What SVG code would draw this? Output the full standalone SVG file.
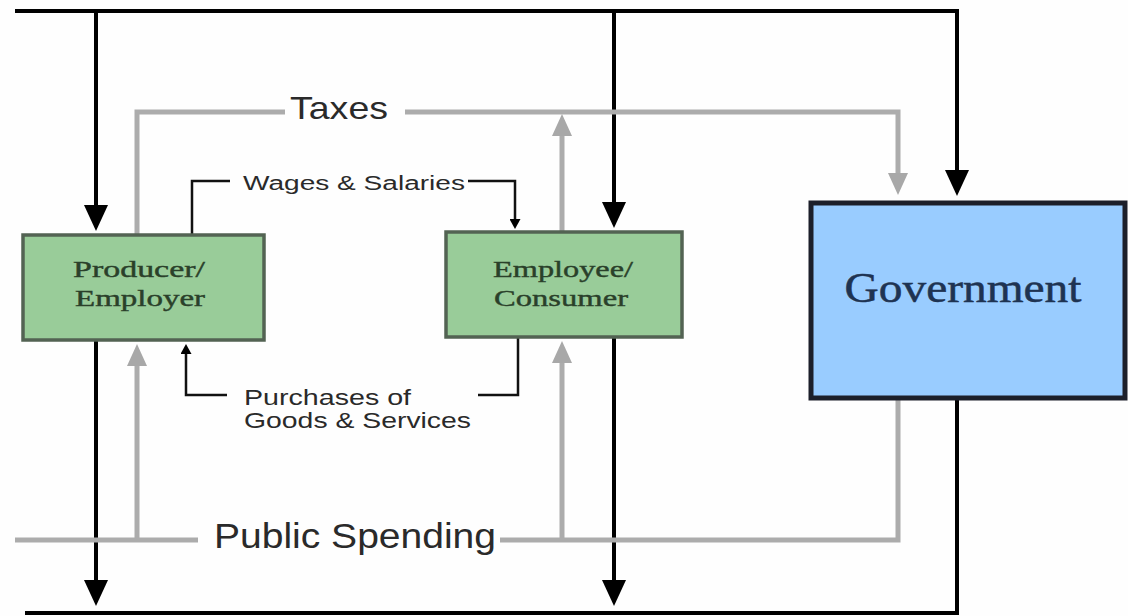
<svg xmlns="http://www.w3.org/2000/svg" width="1128" height="616" viewBox="0 0 1128 616">
  <style>
    .blk { fill: none; stroke: #000; stroke-width: 4; }
    .thin { fill: none; stroke: #111; stroke-width: 2.5; }
    .gry { fill: none; stroke: #acacac; stroke-width: 5; }
    .box { fill: #99cc99; stroke: #536353; stroke-width: 3.5; }
    .gov { fill: #99ccff; stroke: #1c1f2a; stroke-width: 5; }
    .boxtxt { font-family: "Liberation Serif", "DejaVu Serif", serif; font-size: 23px; fill: #2a402a; stroke: #2a402a; stroke-width: 0.4; text-anchor: middle; }
    .lbl { font-family: "Liberation Sans", Arial, sans-serif; fill: #2a2a2a; }
  </style>
  <defs>
    <marker id="ahB" viewBox="0 -12 26 24" refX="1" refY="0" markerWidth="26" markerHeight="24" markerUnits="userSpaceOnUse" orient="auto">
      <path d="M0,-12 L26,0 L0,12 z" fill="#000"/>
    </marker>
    <marker id="ahG" viewBox="0 -10 22 20" refX="1" refY="0" markerWidth="22" markerHeight="20" markerUnits="userSpaceOnUse" orient="auto">
      <path d="M0,-10 L22,0 L0,10 z" fill="#a8a8a8"/>
    </marker>
    <marker id="ahS" viewBox="0 -5.5 10 11" refX="1" refY="0" markerWidth="10" markerHeight="11" markerUnits="userSpaceOnUse" orient="auto">
      <path d="M0,-5.5 L10,0 L0,5.5 z" fill="#000"/>
    </marker>
  </defs>

  <rect width="1128" height="616" fill="#fefefe"/>

  <g id="connectors">
    <!-- money flow (black) -->
    <path class="blk" d="M15,11 H957 V171" marker-end="url(#ahB)"/>
    <path class="blk" d="M96,11 V206" marker-end="url(#ahB)"/>
    <path class="blk" d="M614,11 V203" marker-end="url(#ahB)"/>
    <path class="blk" d="M96,340 V581" marker-end="url(#ahB)"/>
    <path class="blk" d="M614,337 V581" marker-end="url(#ahB)"/>
    <path class="blk" d="M957,398 V613 H25"/>

    <!-- taxes (gray) -->
    <path class="gry" d="M137,235 V112 H285"/>
    <path class="gry" d="M405,112 H898 V174" marker-end="url(#ahG)"/>
    <path class="gry" d="M562,232 V135" marker-end="url(#ahG)"/>

    <!-- public spending (gray) -->
    <path class="gry" d="M15,540 H198"/>
    <path class="gry" d="M500,540 H898 V398"/>
    <path class="gry" d="M137,540 V365" marker-end="url(#ahG)"/>
    <path class="gry" d="M562,540 V362" marker-end="url(#ahG)"/>

    <!-- wages and purchases (thin black) -->
    <path class="thin" d="M192,235 V181 H230"/>
    <path class="thin" d="M468,181 H515 V220" marker-end="url(#ahS)"/>
    <path class="thin" d="M518,337 V395 H478"/>
    <path class="thin" d="M227,395 H186 V353" marker-end="url(#ahS)"/>

    <text class="lbl" x="290" y="119" font-size="32" textLength="98" lengthAdjust="spacingAndGlyphs">Taxes</text>
    <text class="lbl" x="243" y="190" font-size="20" fill="#4a4a4a" textLength="222" lengthAdjust="spacingAndGlyphs">Wages &amp; Salaries</text>
    <text class="lbl" x="244" y="405" font-size="22" fill="#3a3a3a" textLength="167" lengthAdjust="spacingAndGlyphs">Purchases of</text>
    <text class="lbl" x="244" y="428" font-size="22" fill="#3a3a3a" textLength="227" lengthAdjust="spacingAndGlyphs">Goods &amp; Services</text>
    <text class="lbl" x="214" y="548" font-size="35" textLength="282" lengthAdjust="spacingAndGlyphs">Public Spending</text>
  </g>

  <g id="producer">
    <rect class="box" x="23" y="235" width="241" height="105"/>
    <text class="boxtxt" x="139" y="277" textLength="132" lengthAdjust="spacingAndGlyphs">Producer/</text>
    <text class="boxtxt" x="140" y="306" textLength="130" lengthAdjust="spacingAndGlyphs">Employer</text>
  </g>

  <g id="employee">
    <rect class="box" x="446" y="232" width="236" height="105"/>
    <text class="boxtxt" x="563" y="277" textLength="140" lengthAdjust="spacingAndGlyphs">Employee/</text>
    <text class="boxtxt" x="561" y="306" textLength="134" lengthAdjust="spacingAndGlyphs">Consumer</text>
  </g>

  <g id="government">
    <rect class="gov" x="811" y="203" width="314" height="195"/>
    <text x="963" y="302" font-family="Liberation Serif, DejaVu Serif, serif" font-size="42" fill="#1e3352" stroke="#1e3352" stroke-width="0.5" text-anchor="middle" textLength="237" lengthAdjust="spacingAndGlyphs">Government</text>
  </g>
</svg>
